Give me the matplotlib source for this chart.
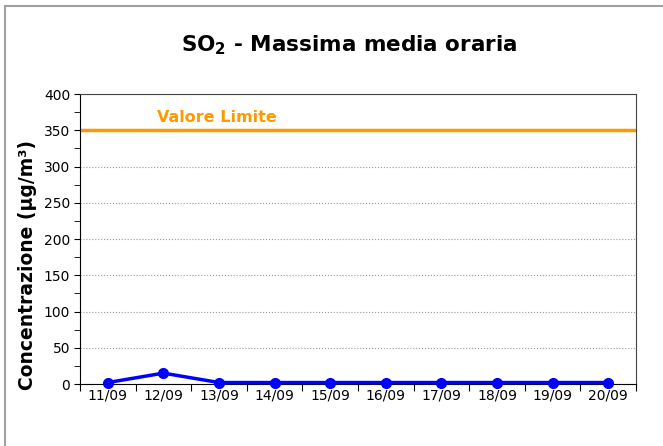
import matplotlib.pyplot as plt
from matplotlib.patches import Rectangle

# data
giorni = ['11/09', '12/09', '13/09', '14/09', '15/09', '16/09', '17/09', '18/09', '19/09', '20/09']
so2 = [2, 15, 2, 2, 2, 2, 2, 2, 2, 2]
valore_limite = 350

fig = plt.figure(figsize=(6.63, 4.46), dpi=100)
fig.patches.append(Rectangle((5 / 663, -0.1), 1.2, 1.1 - 6 / 446, transform=fig.transFigure,
                             fill=False, edgecolor='#a0a0a0', linewidth=1.5))

ax = fig.add_axes([80 / 663, 1 - 384 / 446, 556 / 663, 290 / 446])
x = list(range(len(giorni)))

# limit line and series
ax.axhline(valore_limite, color='#ff9900', linewidth=2.5, zorder=2)
ax.text(1.96, 367, 'Valore Limite', color='#ff9900', fontsize=11.5, fontweight='bold',
        ha='center', va='center')
ax.plot(x, so2, color='#0000ff', linewidth=2.5, marker='o', markersize=7, zorder=3, clip_on=False)

# axes
ax.set_xlim(-0.5, len(giorni) - 0.5)
ax.set_ylim(0, 400)
ax.set_yticks(range(0, 401, 50))
ax.set_yticks(range(25, 400, 50), minor=True)
ax.tick_params(axis='y', which='both', direction='out', length=4, labelsize=10, pad=3)
ax.set_xticks([i - 0.5 for i in range(len(giorni) + 1)])
ax.set_xticklabels([])
ax.set_xticks(x, minor=True)
ax.set_xticklabels(giorni, minor=True, fontsize=10)
ax.tick_params(axis='x', which='major', direction='out', length=5)
ax.tick_params(axis='x', which='minor', length=0, pad=3)
ax.grid(axis='y', which='major', color='#999999', linestyle=':', linewidth=0.8)
for s in ['top', 'right']:
    ax.spines[s].set_color('#444444')
    ax.spines[s].set_linewidth(0.8)

ax.set_ylabel('Concentrazione (µg/m³)', fontsize=13.5, fontweight='bold')
ax.yaxis.set_label_coords(-0.077, 0.41)

fig.text(349 / 663, 1 - 45 / 446, 'SO$_\\mathbf{2}$ - Massima media oraria', fontsize=15.5,
         fontweight='bold', ha='center', va='center')

fig.savefig('out.png', dpi=100)
